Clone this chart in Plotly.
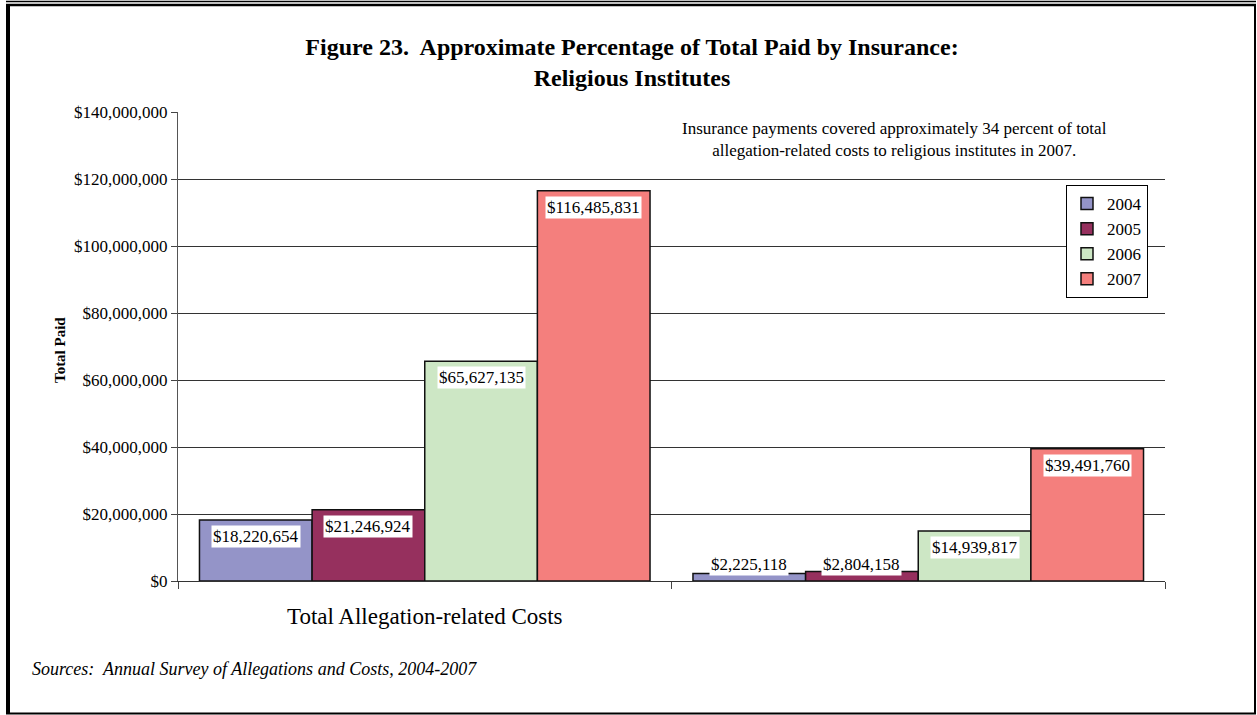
import plotly.graph_objects as go

categories = ["Total Allegation-related Costs", " "]
years = ["2004", "2005", "2006", "2007"]
values_2004 = [18220654, 2225118]
values_2005 = [21246924, 2804158]
values_2006 = [65627135, 14939817]
values_2007 = [116485831, 39491760]
series = [values_2004, values_2005, values_2006, values_2007]
colors = ["#9494C8", "#96305E", "#CDE7C5", "#F47F7D"]
y_ticks = [0, 20000000, 40000000, 60000000, 80000000, 100000000, 120000000, 140000000]
y_tick_text = ["$" + format(v, ",") for v in y_ticks]

W, H = 1257, 715
L, T = 178, 112
PW = 1165 - 178
PH = 581 - 112
R = W - L - PW
B = H - T - PH
SERIF = "Liberation Serif"


def px(x):
    return (x - L) / PW


def py(y):
    return (T + PH - y) / PH


fig = go.Figure()
for name, vals, col in zip(years, series, colors):
    fig.add_trace(go.Bar(
        name=name, x=categories, y=vals,
        marker=dict(color=col, line=dict(color="#111111", width=1.5)),
    ))

bargap = 0.087
group_w = 1 - bargap
bar_w = group_w / len(years)
annotations = []
for j, vals in enumerate(series):
    off = -group_w / 2 + bar_w * (j + 0.5)
    for i, v in enumerate(vals):
        label = "${:,.0f}".format(v)
        if v < 8000000:
            annotations.append(dict(x=i + off, y=0, xref="x", yref="y", text=label,
                                    showarrow=False, yanchor="bottom", yshift=5,
                                    bgcolor="white", borderpad=1,
                                    font=dict(family=SERIF, size=17, color="black")))
        else:
            annotations.append(dict(x=i + off, y=v, xref="x", yref="y", text=label,
                                    showarrow=False, yanchor="top", yshift=-5,
                                    bgcolor="white", borderpad=1,
                                    font=dict(family=SERIF, size=17, color="black")))

annotations.append(dict(x=px(894), y=py(140), xref="paper", yref="paper",
                        text="Insurance payments covered approximately 34 percent of total<br>allegation-related costs to religious institutes in 2007.",
                        showarrow=False, xanchor="center", yanchor="middle", align="center",
                        font=dict(family=SERIF, size=17, color="black")))
annotations.append(dict(x=px(60), y=py(350), xref="paper", yref="paper", text="<b>Total Paid</b>",
                        showarrow=False, textangle=-90, xanchor="center", yanchor="middle",
                        font=dict(family=SERIF, size=15, color="black")))
annotations.append(dict(x=px(30), y=py(669), xref="paper", yref="paper",
                        text="<i>Sources:\u00a0 Annual Survey of Allegations and Costs, 2004-2007</i>",
                        showarrow=False, xanchor="left", yanchor="middle",
                        font=dict(family=SERIF, size=18, color="black")))

shapes = [
    dict(type="line", xref="paper", yref="paper", x0=px(6), x1=px(1256), y0=py(1.5), y1=py(1.5),
         line=dict(color="black", width=1.5)),
    dict(type="line", xref="paper", yref="paper", x0=px(6), x1=px(1256), y0=py(5), y1=py(5),
         line=dict(color="black", width=2.5)),
    dict(type="line", xref="paper", yref="paper", x0=px(8), x1=px(8), y0=py(4), y1=py(714),
         line=dict(color="black", width=4)),
    dict(type="line", xref="paper", yref="paper", x0=px(1255), x1=px(1255), y0=py(4), y1=py(714),
         line=dict(color="black", width=2)),
    dict(type="line", xref="paper", yref="paper", x0=px(6), x1=px(1256), y0=py(713.5), y1=py(713.5),
         line=dict(color="black", width=2)),
]

fig.update_layout(
    width=W, height=H,
    margin=dict(l=L, r=R, t=T, b=B),
    paper_bgcolor="white", plot_bgcolor="white",
    barmode="group", bargap=bargap, bargroupgap=0,
    title=dict(text="<b>Figure 23.\u00a0 Approximate Percentage of Total Paid by Insurance:<br>Religious Institutes</b>",
               x=px(632), xref="paper", xanchor="center", y=1 - 55 / H, yref="container", yanchor="middle",
               font=dict(family=SERIF, size=24, color="black")),
    font=dict(family=SERIF, color="black"),
    showlegend=True,
    legend=dict(x=px(1066), y=py(185), xanchor="left", yanchor="top",
                bgcolor="white", bordercolor="black", borderwidth=1,
                font=dict(family=SERIF, size=17, color="black"),
                itemwidth=30, tracegroupgap=0),
    annotations=annotations,
    shapes=shapes,
)
fig.update_xaxes(type="category", tickson="boundaries", ticks="outside", ticklen=7,
                 tickcolor="#444444", showline=True, linecolor="#333333", linewidth=1,
                 showgrid=False, tickfont=dict(family=SERIF, size=23, color="black"),
                 ticklabelstandoff=14, range=[-0.5, 1.5])
fig.update_yaxes(range=[0, 140000000], tickmode="array", tickvals=y_ticks, ticktext=y_tick_text,
                 ticks="outside", ticklen=6, tickcolor="#444444",
                 showline=True, linecolor="#555555", linewidth=1,
                 showgrid=True, gridcolor="#333333", gridwidth=1, zeroline=False,
                 tickfont=dict(family=SERIF, size=17, color="black"))

fig.write_html("out.html", config={"displayModeBar": False},
               post_script="document.body.style.margin='0px';")
